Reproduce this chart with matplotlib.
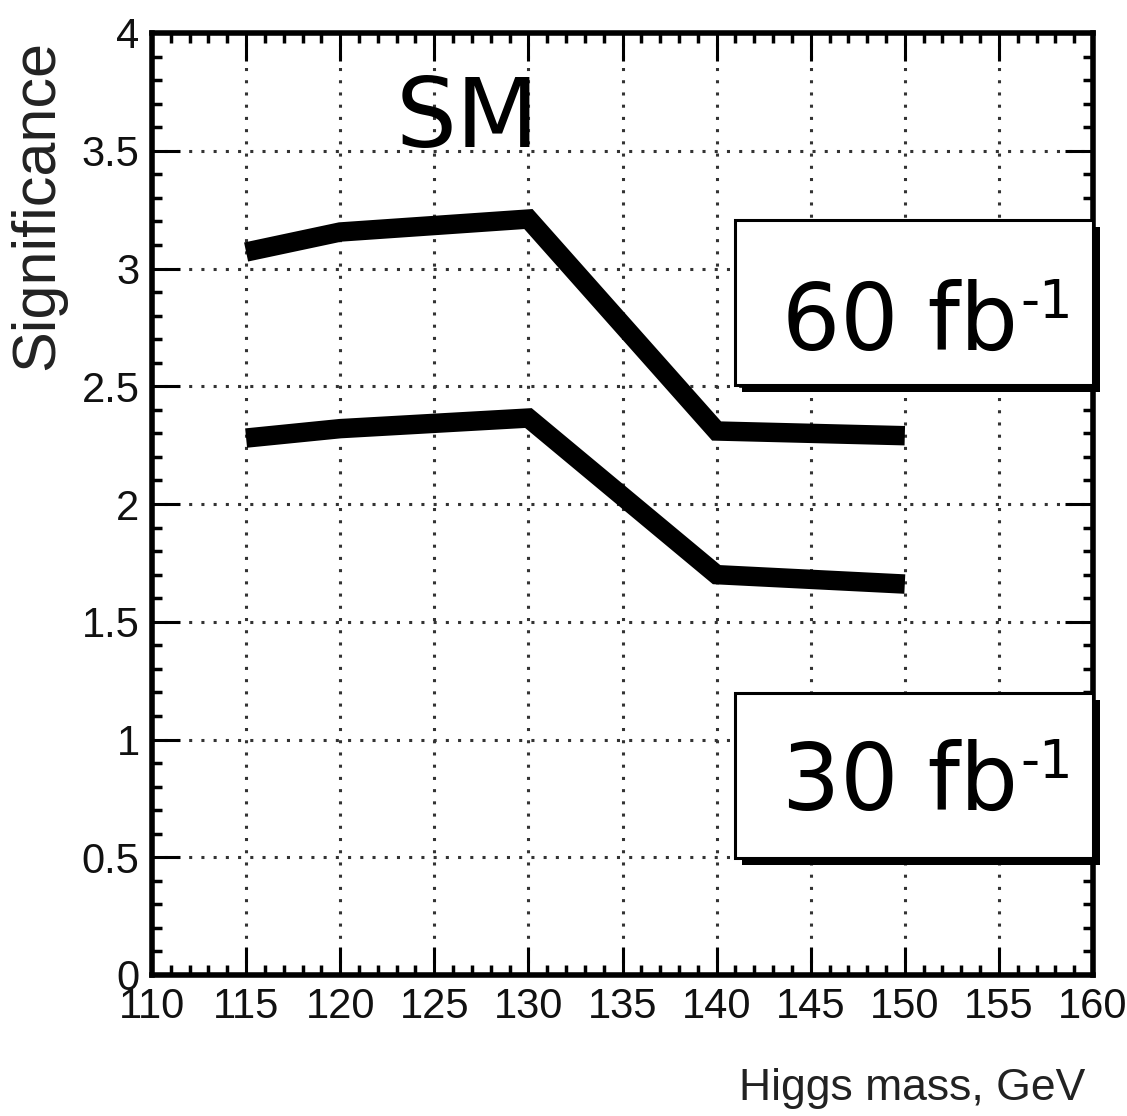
import matplotlib
matplotlib.use("Agg")
import matplotlib.pyplot as plt
from matplotlib.patches import Rectangle
from matplotlib.ticker import MultipleLocator

# Data
mass = [115, 120, 130, 140, 150]
sig_60 = [3.07, 3.155, 3.21, 2.31, 2.29]
sig_30 = [2.28, 2.32, 2.365, 1.70, 1.66]
x_ticks = [110, 115, 120, 125, 130, 135, 140, 145, 150, 155, 160]
x_tick_labels = [str(v) for v in x_ticks]
y_ticks = [0, 0.5, 1, 1.5, 2, 2.5, 3, 3.5, 4]
y_tick_labels = ["0", "0.5", "1", "1.5", "2", "2.5", "3", "3.5", "4"]
box_main = ["60 fb", "30 fb"]
box_sup = "-1"

W, H = 1127, 1116
fig = plt.figure(figsize=(W / 100, H / 100), dpi=100)
L, R, T, B = 152, 1093, 33, 975
ax = fig.add_axes([L / W, 1 - B / H, (R - L) / W, (B - T) / H])

narrow = ['Liberation Sans Narrow', 'Liberation Sans', 'DejaVu Sans']

ax.plot(mass, sig_60, color='black', lw=14, solid_capstyle='butt', solid_joinstyle='miter', zorder=3)
ax.plot(mass, sig_30, color='black', lw=14, solid_capstyle='butt', solid_joinstyle='miter', zorder=3)

ax.set_xlim(110, 160)
ax.set_ylim(0, 4)
ax.set_xticks(x_ticks)
ax.set_xticklabels(x_tick_labels)
ax.set_yticks(y_ticks)
ax.set_yticklabels(y_tick_labels)
ax.xaxis.set_minor_locator(MultipleLocator(1))
ax.yaxis.set_minor_locator(MultipleLocator(0.1))
ax.tick_params(which='both', direction='in', top=True, right=True, color='black')
ax.tick_params(which='major', length=20, width=2.2, pad=9, labelsize=30)
ax.tick_params(which='minor', length=7, width=2.5)
for lab in ax.get_xticklabels() + ax.get_yticklabels():
    lab.set_family(narrow)
    lab.set_color('#111111')
for sp in ax.spines.values():
    sp.set_linewidth(4)
    sp.set_color('black')
ax.grid(True, which='major', color='#333333', linestyle=(0, (1, 3)), linewidth=2.2)
ax.set_axisbelow(True)

# Boxes with shadow
sh = 7 / (R - L)
shy = 7 / (B - T)
for y0, main, ty in [(0.6263, box_main[0], 0.6635), (0.1242, box_main[1], 0.1752)]:
    x0, w, h = 0.6196, 0.3804, 0.1752
    ax.add_patch(Rectangle((x0 + sh, y0 - shy), w, h, transform=ax.transAxes,
                           facecolor='black', edgecolor='none', clip_on=False, zorder=4))
    ax.add_patch(Rectangle((x0, y0), w, h, transform=ax.transAxes,
                           facecolor='white', edgecolor='black', lw=2.2, clip_on=False, zorder=5))
    ax.text(0.6695, ty, main, transform=ax.transAxes, fontsize=66, family='DejaVu Sans',
            ha='left', va='baseline', zorder=6)
    ax.text((1020 - L) / (R - L), ty + 32 / (B - T), box_sup, transform=ax.transAxes,
            fontsize=38, family='DejaVu Sans', ha='left', va='baseline', zorder=6)

ax.text(0.3348, 0.9076, "SM", transform=ax.transAxes, fontsize=69, family='DejaVu Sans',
        ha='center', va='center', zorder=6)

fig.text(38 / W, 1 - 40 / H, "Significance", rotation=90, ha='center', va='top',
         fontsize=44, family=narrow, color='#222222')
fig.text(1085 / W, 1 - 1100 / H, "Higgs mass, GeV", ha='right', va='baseline',
         fontsize=32, family=narrow, color='#222222')

fig.savefig("out.png", dpi=100)
